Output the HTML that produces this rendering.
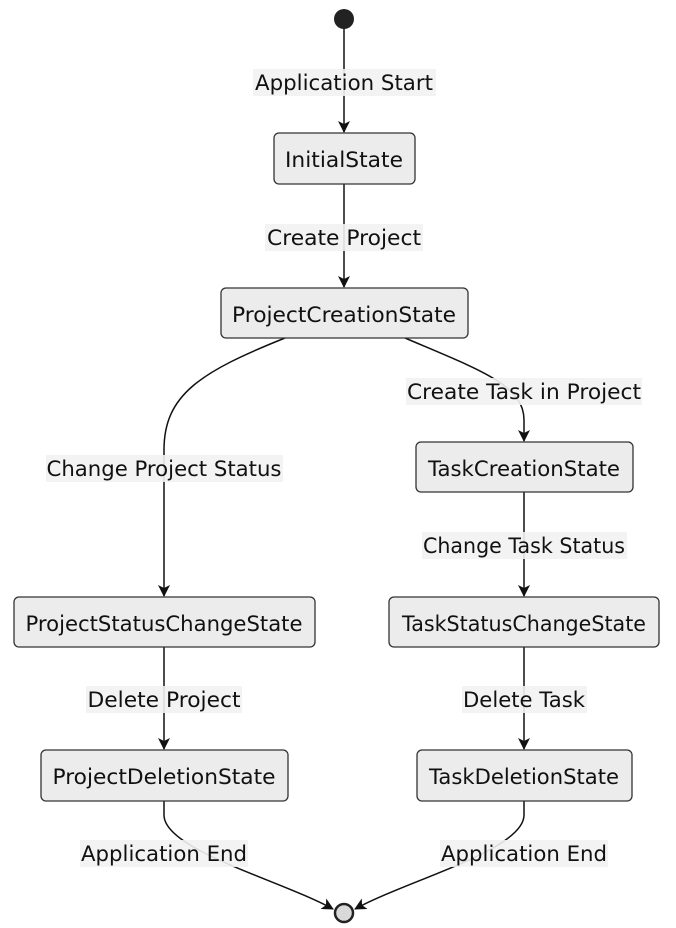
<!DOCTYPE html>
<html><head><meta charset="utf-8"><style>
html,body{margin:0;padding:0;background:#fff;}
svg{display:block;}
text{font-family:"DejaVu Sans","Liberation Sans",sans-serif;font-size:21px;fill:#111;}
.n{fill:#ECECEC;stroke:#333;stroke-width:1.3;}
.e{fill:none;stroke:#111;stroke-width:1.5;}
.lb{fill:#f2f2f2;opacity:0.9;}
</style></head><body>
<svg width="676" height="928" viewBox="0 0 676 928" xmlns="http://www.w3.org/2000/svg">
<defs><marker id="a" viewBox="0 0 12 12" refX="11" refY="6" markerWidth="12" markerHeight="12" markerUnits="userSpaceOnUse" orient="auto"><path d="M0,0 L12,6 L0,12 L3,6 z" fill="#111"/></marker></defs>

<path class="e" d="M344,29 L344,132" marker-end="url(#a)"/>
<path class="e" d="M344,184 L344,287" marker-end="url(#a)"/>
<path class="e" d="M285,338 C200,372 164,395 164,450 L164,596" marker-end="url(#a)"/>
<path class="e" d="M405,338 C480,370 524,385 524,420 L524,441" marker-end="url(#a)"/>
<path class="e" d="M524,492 L524,596" marker-end="url(#a)"/>
<path class="e" d="M164,647 L164,749" marker-end="url(#a)"/>
<path class="e" d="M524,647 L524,749" marker-end="url(#a)"/>
<path class="e" d="M164,801 L164,815 C164,850 280,880 333,909" marker-end="url(#a)"/>
<path class="e" d="M524,801 L524,815 C524,850 408,880 355,909" marker-end="url(#a)"/>

<circle cx="344" cy="19" r="10" fill="#222"/>
<circle cx="344" cy="913" r="9" fill="#d9d9d9" stroke="#222" stroke-width="2.5"/>

<g text-anchor="middle">
<rect class="lb" x="253" y="69" width="183" height="27"/><text x="344" y="90" textLength="178" lengthAdjust="spacingAndGlyphs">Application Start</text>
<rect class="lb" x="265" y="224" width="158" height="27"/><text x="344" y="245" textLength="154" lengthAdjust="spacingAndGlyphs">Create Project</text>
<rect class="lb" x="406" y="378" width="236" height="27"/><text x="524" y="399" textLength="234" lengthAdjust="spacingAndGlyphs">Create Task in Project</text>
<rect class="lb" x="46" y="455" width="237" height="27"/><text x="164" y="476" textLength="235" lengthAdjust="spacingAndGlyphs">Change Project Status</text>
<rect class="lb" x="422" y="532" width="205" height="27"/><text x="524" y="553" textLength="202" lengthAdjust="spacingAndGlyphs">Change Task Status</text>
<rect class="lb" x="86" y="686" width="156" height="27"/><text x="164" y="707" textLength="153" lengthAdjust="spacingAndGlyphs">Delete Project</text>
<rect class="lb" x="462" y="686" width="125" height="27"/><text x="524" y="707" textLength="122" lengthAdjust="spacingAndGlyphs">Delete Task</text>
<rect class="lb" x="80" y="840" width="168" height="27"/><text x="164" y="861" textLength="166" lengthAdjust="spacingAndGlyphs">Application End</text>
<rect class="lb" x="440" y="840" width="168" height="27"/><text x="524" y="861" textLength="166" lengthAdjust="spacingAndGlyphs">Application End</text>
</g>

<g text-anchor="middle">
<rect class="n" x="274" y="133" width="141" height="51" rx="5"/><text x="344" y="167" textLength="118" lengthAdjust="spacingAndGlyphs">InitialState</text>
<rect class="n" x="221" y="288" width="247" height="50" rx="5"/><text x="344" y="322" textLength="224" lengthAdjust="spacingAndGlyphs">ProjectCreationState</text>
<rect class="n" x="416" y="442" width="217" height="50" rx="5"/><text x="524" y="476" textLength="192" lengthAdjust="spacingAndGlyphs">TaskCreationState</text>
<rect class="n" x="14" y="597" width="301" height="50" rx="5"/><text x="164" y="631" textLength="277" lengthAdjust="spacingAndGlyphs">ProjectStatusChangeState</text>
<rect class="n" x="389" y="597" width="270" height="50" rx="5"/><text x="524" y="631" textLength="244" lengthAdjust="spacingAndGlyphs">TaskStatusChangeState</text>
<rect class="n" x="41" y="750" width="247" height="51" rx="5"/><text x="164" y="784" textLength="223" lengthAdjust="spacingAndGlyphs">ProjectDeletionState</text>
<rect class="n" x="417" y="750" width="215" height="51" rx="5"/><text x="524" y="784" textLength="190" lengthAdjust="spacingAndGlyphs">TaskDeletionState</text>
</g>
</svg>
</body></html>
